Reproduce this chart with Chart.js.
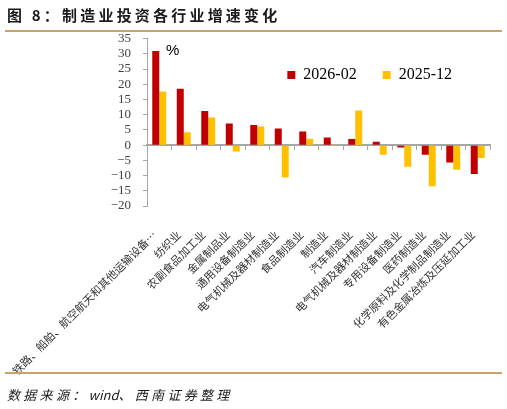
<!DOCTYPE html>
<html>
<head>
<meta charset="utf-8">
<script src="https://cdn.jsdelivr.net/npm/chart.js@4.4.1/dist/chart.umd.min.js"></script>
<style>
  html, body { margin: 0; padding: 0; background: #fff; }
  #wrap { position: relative; width: 507px; height: 409px; overflow: hidden; }
  #chart { position: absolute; left: 0; top: 0; }
  .title { position: absolute; left: 7px; top: 4px; font: bold 15px "Noto Sans CJK SC", sans-serif; letter-spacing: 3.2px; color: #1a1a1a; white-space: nowrap; }
  .rule { position: absolute; left: 5px; width: 497px; height: 2px; background: #c9a46a; }
  .unit { position: absolute; left: 166px; top: 41px; font: 15px "Liberation Sans", sans-serif; color: #000; }
  .source { position: absolute; left: 7px; top: 385px; font: italic 13px "Noto Sans CJK SC", sans-serif; letter-spacing: 3.3px; color: #1a1a1a; white-space: nowrap; }
  .source span { letter-spacing: 0; }
</style>
</head>
<body>
<div id="wrap">
  <canvas id="chart" width="507" height="409"></canvas>
  <div class="title">图 8：制造业投资各行业增速变化</div>
  <div class="rule" style="top:30px"></div>
  <div class="rule" style="top:372px"></div>
  <div class="unit">%</div>
  <div class="source">数据来源：<span>wind</span>、西南证券整理</div>
</div>
<script>
const categories = [
  '铁路、船舶、航空航天和其他运输设备…',
  '纺织业',
  '农副食品加工业',
  '金属制品业',
  '通用设备制造业',
  '电气机械及器材制造业',
  '食品制造业',
  '制造业',
  '汽车制造业',
  '电气机械及器材制造业',
  '专用设备制造业',
  '医药制造业',
  '化学原料及化学制品制造业',
  '有色金属冶炼及压延加工业'
]
const feb2026 = [30.9, 18.5, 11.2, 7.1, 6.6, 5.5, 4.5, 2.5, 2.0, 1.1, -0.8, -3.2, -5.7, -9.5]
const dec2025 = [17.6, 4.2, 9.1, -2.1, 6.1, -10.6, 2.1, 0.2, 11.4, -3.2, -7.1, -13.5, -8.1, -4.2]
const seriesNames = ['2026-02', '2025-12']
const yMin = -20
const yMax = 35
const yStep = 5

const AREA_LEFT = 147
const AREA_BOTTOM = 206
const axisGray = '#a6a6a6'
// legend box = font 16 + padding 26 + 10, pushed below the canvas by a negative padding
const LEGEND_H = 52

// move the legend into the plot area, like the original
const legendInside = {
  id: 'legendInside',
  afterLayout(chart) {
    const leg = chart.legend
    if (!leg) return
    const h = leg.height
    const w = leg.width
    leg.top = 41
    leg.bottom = leg.top + h
    leg.right = 478
    leg.left = leg.right - w
  }
}

const ctx = document.getElementById('chart')
const myChart = new Chart(ctx, {
  type: 'bar',
  data: {
    labels: categories,
    datasets: [
      {
        label: seriesNames[0],
        data: feb2026,
        backgroundColor: '#c00000',
        xAxisID: 'x',
        categoryPercentage: 0.57,
        barPercentage: 1.0
      },
      {
        label: seriesNames[1],
        data: dec2025,
        backgroundColor: '#ffc000',
        xAxisID: 'x',
        categoryPercentage: 0.57,
        barPercentage: 1.0
      }
    ]
  },
  options: {
    responsive: false,
    animation: false,
    devicePixelRatio: 1,
    layout: { padding: { left: 0, top: 38.6, right: 17, bottom: -LEGEND_H } },
    plugins: {
      tooltip: { enabled: false },
      legend: {
        position: 'bottom',
        align: 'end',
        labels: {
          boxWidth: 8,
          boxHeight: 8,
          padding: 26,
          color: '#000',
          font: { family: 'Liberation Serif', size: 16 }
        }
      }
    },
    scales: {
      x: {
        type: 'category',
        position: 'bottom',
        offset: true,
        grid: { display: false },
        border: { display: false },
        ticks: {
          autoSkip: false,
          minRotation: 45,
          maxRotation: 45,
          padding: 14,
          labelOffset: -5,
          color: '#333',
          font: { family: 'Noto Sans CJK SC', size: 11 }
        },
        afterFit(s) {
          s.height = s.chart.height - AREA_BOTTOM
          s.paddingLeft = 0
          s.paddingRight = 0
        }
      },
      x2: {
        type: 'category',
        position: { y: 0 },
        offset: true,
        grid: {
          display: true,
          offset: true,
          drawOnChartArea: false,
          tickLength: 4,
          color: axisGray,
          lineWidth: 1
        },
        border: { display: true, color: axisGray, width: 2 },
        ticks: { display: false },
        afterFit(s) {
          s.paddingLeft = 0
          s.paddingRight = 0
        }
      },
      y: {
        min: yMin,
        max: yMax,
        grid: {
          drawOnChartArea: false,
          tickLength: 4,
          color: axisGray
        },
        border: { display: true, color: axisGray, width: 1 },
        ticks: {
          stepSize: yStep,
          autoSkip: false,
          padding: 12,
          color: '#404040',
          font: { family: 'Liberation Serif', size: 13 },
          callback: v => String(v).replace('-', '\u2212')
        },
        afterFit(s) {
          s.width = AREA_LEFT
        }
      }
    }
  },
  plugins: [legendInside]
})
</script>
</body>
</html>
